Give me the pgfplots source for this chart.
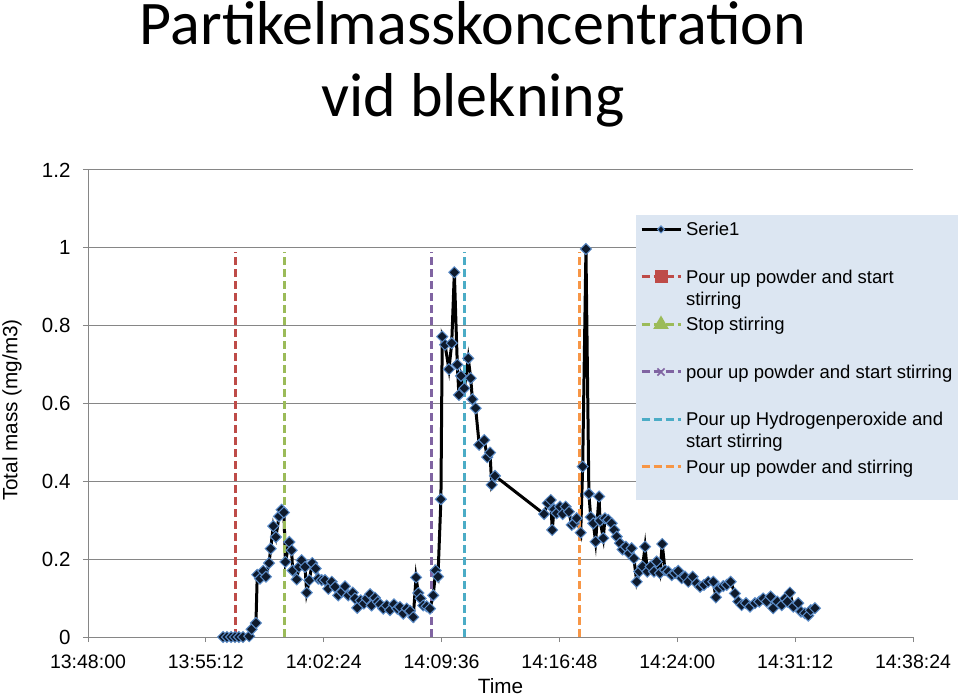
\documentclass[border=0pt]{standalone}
\usepackage{pgfplots}
\pgfplotsset{compat=1.18}
\usepackage{fontspec}
\setmainfont{Liberation Sans}
\newfontfamily\titlefont{Carlito}
\definecolor{axisgray}{HTML}{868686}
\definecolor{legendblue}{HTML}{DCE6F2}
\definecolor{cred}{HTML}{BE4B48}
\definecolor{cgreen}{HTML}{9BBB59}
\definecolor{cpurple}{HTML}{8064A2}
\definecolor{cteal}{HTML}{4BACC6}
\definecolor{corange}{HTML}{F79646}
\definecolor{markfill}{HTML}{0E1A2C}
\definecolor{markedge}{HTML}{5B8CC8}
\newcommand{\legtext}[1]{\raisebox{0pt}[14pt][5pt]{\parbox[t]{270pt}{#1}}}
\begin{document}
\begin{tikzpicture}
\begin{axis}[
  at={(88pt,60pt)}, anchor=south west,
  scale only axis, width=825pt, height=467pt,
  xmin=0, xmax=50.4, ymin=0, ymax=1.2,
  clip=false,
  axis lines=left, axis line style={-, draw=axisgray, line width=1pt},
  xtick={0,7.2,14.4,21.6,28.8,36,43.2,50.4},
  xticklabels={13:48:00,13:55:12,14:02:24,14:09:36,14:16:48,14:24:00,14:31:12,14:38:24},
  ytick={0,0.2,0.4,0.6,0.8,1,1.2},
  yticklabels={0,0.2,0.4,0.6,0.8,1,1.2},
  ymajorgrids, grid style={draw=axisgray, line width=1pt},
  tick align=outside, major tick length=5pt,
  tick style={draw=axisgray, line width=1pt},
  /pgf/number format/assume math mode=true,
  ticklabel style={font=\fontsize{19.5}{23}\selectfont},
  yticklabel style={xshift=-9pt, font=\fontsize{20.5}{24}\selectfont},
  xticklabel style={yshift=-9pt},
  xlabel={Time}, ylabel={Total mass (mg/m3)},
  label style={font=\fontsize{20.7}{24}\selectfont},
  xlabel style={at={(axis description cs:0.5,-0.105)}, anchor=center},
  ylabel style={at={(axis description cs:-0.0921,0.486)}, anchor=center},
  legend style={at={(axis description cs:0.664,0.9036)}, anchor=north west,
    fill=none, draw=none, font=\fontsize{18.5}{22}\selectfont,
    inner xsep=4pt, inner ysep=6.5pt, row sep=32pt, column sep=4pt,
    nodes={inner sep=0pt}},
  legend cell align=left,
  legend image code/.code={\draw[mark repeat=2,mark phase=2] plot coordinates {(0pt,0pt) (19.5pt,0pt) (39pt,0pt)};},
]
\fill[legendblue] (axis description cs:0.664,0.9036) rectangle (axis description cs:1.0545,0.2934);
\addplot[black, line width=3pt, mark=square*, mark size=3.9pt,
  mark options={rotate=45, fill=markfill, draw=markedge, line width=1pt, solid},
  legend image post style={mark size=2.5pt, line width=2.5pt}] table {
x y
8.25 0
8.49 0
8.74 0
8.98 0
9.22 0
9.47 0
9.85 0.002
10.00 0.02
10.26 0.036
10.34 0.16
10.51 0.15
10.71 0.17
10.87 0.155
11.06 0.19
11.16 0.227
11.32 0.285
11.48 0.257
11.67 0.31
11.83 0.327
11.97 0.32
12.06 0.193
12.30 0.244
12.44 0.223
12.50 0.171
12.75 0.148
12.89 0.18
13.05 0.197
13.26 0.18
13.36 0.114
13.52 0.146
13.70 0.19
13.91 0.176
14.07 0.15
14.28 0.146
14.48 0.146
14.68 0.124
14.89 0.142
15.09 0.129
15.29 0.107
15.50 0.116
15.70 0.13
15.90 0.107
16.17 0.114
16.31 0.099
16.45 0.075
16.66 0.094
16.86 0.086
17.02 0.099
17.23 0.11
17.33 0.081
17.53 0.101
17.70 0.09
17.84 0.084
18.04 0.073
18.25 0.081
18.45 0.069
18.69 0.084
18.89 0.073
19.06 0.077
19.26 0.06
19.47 0.073
19.67 0.067
19.87 0.051
20.04 0.153
20.18 0.113
20.32 0.099
20.48 0.081
20.69 0.079
20.89 0.073
21.09 0.107
21.24 0.171
21.38 0.155
21.56 0.354
21.64 0.772
21.81 0.751
22.05 0.688
22.22 0.755
22.38 0.937
22.56 0.70
22.66 0.622
22.79 0.671
22.99 0.639
23.23 0.716
23.38 0.665
23.48 0.611
23.68 0.588
23.90 0.494
24.21 0.506
24.39 0.462
24.56 0.474
24.66 0.391
24.86 0.414
27.86 0.316
28.08 0.344
28.27 0.352
28.36 0.275
28.47 0.328
28.63 0.318
28.83 0.335
29.00 0.316
29.18 0.335
29.38 0.322
29.55 0.288
29.69 0.292
29.85 0.305
30.10 0.268
30.22 0.438
30.42 0.997
30.60 0.368
30.71 0.308
30.87 0.292
31.01 0.245
31.22 0.361
31.28 0.299
31.48 0.254
31.58 0.305
31.78 0.301
31.99 0.292
32.15 0.275
32.30 0.258
32.50 0.241
32.66 0.225
32.86 0.232
33.05 0.215
33.21 0.228
33.35 0.202
33.52 0.142
33.68 0.168
33.88 0.181
34.03 0.232
34.17 0.168
34.37 0.181
34.58 0.168
34.74 0.194
34.94 0.164
35.08 0.239
35.25 0.172
35.45 0.168
35.66 0.159
35.86 0.164
36.06 0.17
36.27 0.151
36.47 0.155
36.67 0.142
36.94 0.155
37.18 0.138
37.39 0.129
37.63 0.134
37.89 0.142
38.20 0.142
38.36 0.102
38.55 0.125
38.81 0.131
39.02 0.134
39.26 0.142
39.52 0.112
39.73 0.091
39.93 0.082
40.20 0.087
40.44 0.078
40.75 0.087
41.01 0.091
41.25 0.099
41.46 0.091
41.70 0.104
41.86 0.074
42.11 0.091
42.38 0.082
42.58 0.099
42.72 0.091
42.88 0.114
43.09 0.078
43.39 0.087
43.56 0.065
43.80 0.061
44.00 0.055
44.15 0.069
44.41 0.074
};
\addlegendentry{\legtext{Serie1}}
\addplot[cred, line width=3pt, dash pattern=on 8pt off 4pt, mark=none,
  legend image post style={mark=square*, mark size=5pt, mark options={solid, fill=cred}}]
  coordinates {(9,0) (9,0.99)};
\addlegendentry{\legtext{Pour up powder and start\\stirring}}
\addplot[cgreen, line width=3pt, dash pattern=on 8pt off 4pt, mark=none,
  legend image post style={mark=triangle*, mark size=6pt, mark options={solid, fill=cgreen}}]
  coordinates {(12,0) (12,0.99)};
\addlegendentry{\legtext{Stop stirring}}
\addplot[cpurple, line width=3pt, dash pattern=on 8pt off 4pt, mark=none,
  legend image post style={mark=x, mark size=5pt, mark options={solid, line width=1.5pt}}]
  coordinates {(21,0) (21,0.99)};
\addlegendentry{\legtext{pour up powder and start stirring}}
\addplot[cteal, line width=3pt, dash pattern=on 8pt off 4pt, mark=none]
  coordinates {(23,0) (23,0.99)};
\addlegendentry{\legtext{Pour up Hydrogenperoxide and\\start stirring}}
\addplot[corange, line width=3pt, dash pattern=on 8pt off 4pt, mark=none]
  coordinates {(30,0) (30,0.99)};
\addlegendentry{\legtext{Pour up powder and stirring}}
\end{axis}
\node[anchor=base, font=\titlefont\fontsize{62}{74}\selectfont] at (473pt,652pt) {Partikelmasskoncentration};
\node[anchor=base, font=\titlefont\fontsize{62}{74}\selectfont] at (473pt,580pt) {vid blekning};
\pgfresetboundingbox
\path (0pt,0pt) rectangle (960pt,697pt);
\end{tikzpicture}
\end{document}
